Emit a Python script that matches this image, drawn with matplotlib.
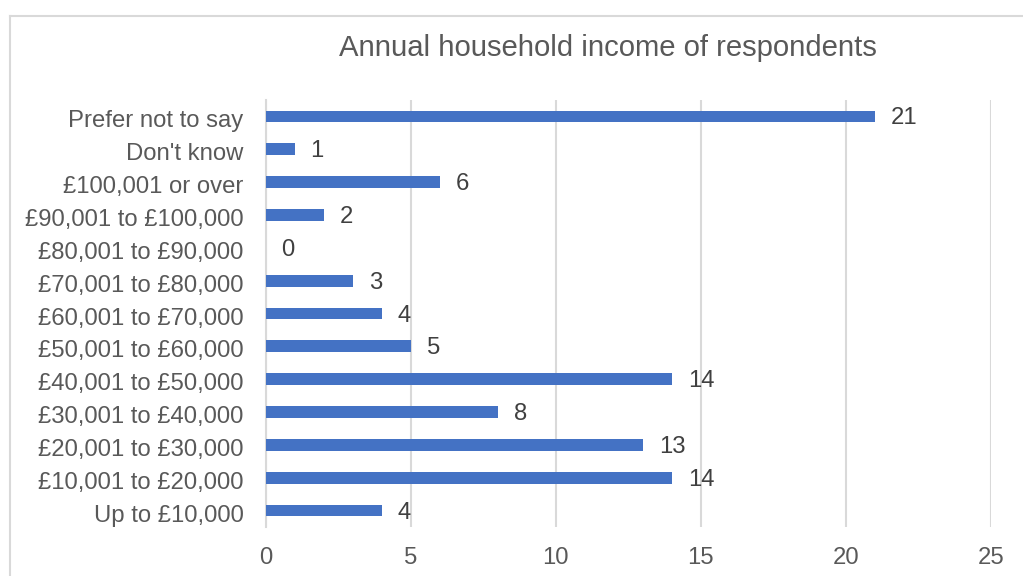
import matplotlib
matplotlib.use("Agg")
import matplotlib.pyplot as plt
import matplotlib.transforms as mtransforms
from matplotlib.lines import Line2D

categories = ["Up to £10,000", "£10,001 to £20,000", "£20,001 to £30,000",
              "£30,001 to £40,000", "£40,001 to £50,000", "£50,001 to £60,000",
              "£60,001 to £70,000", "£70,001 to £80,000", "£80,001 to £90,000",
              "£90,001 to £100,000", "£100,001 or over", "Don't know",
              "Prefer not to say"]
values = [4, 14, 13, 8, 14, 5, 4, 3, 0, 2, 6, 1, 21]
xticks = [0, 5, 10, 15, 20, 25]
title = "Annual household income of respondents"

plt.rcParams['font.family'] = ['Liberation Sans', 'DejaVu Sans']

W, H = 1023, 576
fig = plt.figure(figsize=(W / 100, H / 100), dpi=100)
ax = fig.add_axes([265.6 / W, 1 - 527 / H, (990.7 - 265.6) / W, (527 - 100) / H])

grid_c = "#d9d9d9"
ypos = list(range(len(categories)))
ax.barh(ypos, values, height=0.36, color="#4472C4", zorder=3)
for y, v in zip(ypos, values):
    ax.annotate(str(v), (v, y), xytext=(16, -2), textcoords="offset pixels",
                va="center", ha="left", fontsize=17.2, color="#404040")

ax.set_xlim(0, 25)
ax.set_ylim(-0.5, len(categories) - 0.5)
ax.set_xticks(xticks)
ax.set_yticks(ypos)
ax.set_yticklabels(categories)
ax.tick_params(axis="y", length=0, pad=16, labelsize=17.2, labelcolor="#595959")
ax.tick_params(axis="x", length=0, pad=14.5, labelsize=17.2, labelcolor="#595959")
ax.xaxis.grid(True, color=grid_c, linewidth=1.5, zorder=0)
for s in ["top", "right", "bottom"]:
    ax.spines[s].set_visible(False)
ax.spines["left"].set_color(grid_c)
ax.spines["left"].set_linewidth(1.5)

offset = mtransforms.ScaledTranslation(0, -2.5 / 100, fig.dpi_scale_trans)
for lab in ax.get_yticklabels():
    lab.set_transform(lab.get_transform() + offset)

fig.text(607.5 / W, 1 - 48 / H, title, ha="center", va="center",
         fontsize=21.1, color="#595959")

# chart area border (extends beyond image on right and bottom)
fig.add_artist(Line2D([10 / W, 1.01], [1 - 16 / H, 1 - 16 / H],
                      transform=fig.transFigure, color=grid_c, linewidth=1.5))
fig.add_artist(Line2D([10 / W, 10 / W], [1 - 16 / H, -0.01],
                      transform=fig.transFigure, color=grid_c, linewidth=1.5))

fig.savefig("out.png", dpi=100)
